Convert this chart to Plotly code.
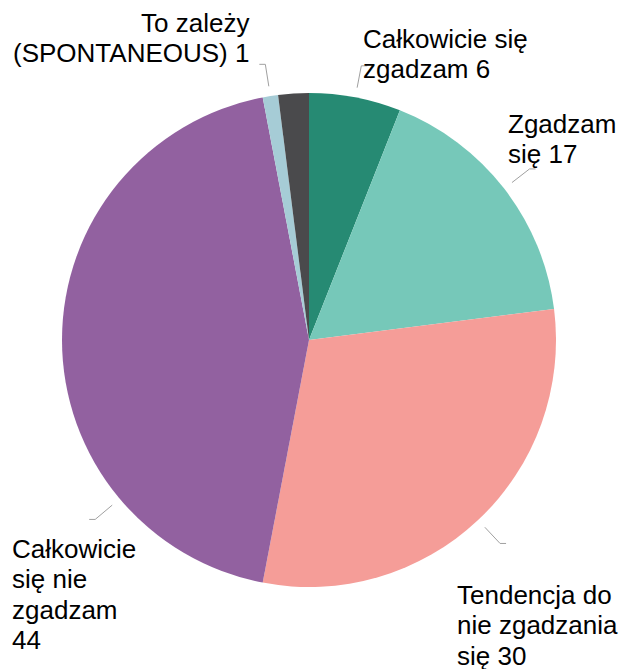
import math
import plotly.graph_objects as go

# ---- data ----
categories = ["Całkowicie się zgadzam", "Zgadzam się", "Tendencja do nie zgadzania się",
              "Całkowicie się nie zgadzam", "To zależy (SPONTANEOUS)", "Nie wiem"]
values = [6, 17, 30, 44, 1, 2]
label_lines = [["Całkowicie się", "zgadzam 6"], ["Zgadzam", "się 17"],
               ["Tendencja do", "nie zgadzania", "się 30"],
               ["Całkowicie", "się nie", "zgadzam", "44"],
               ["To zależy", "(SPONTANEOUS) 1"], None]

# ---- style ----
colors = ["#268a73", "#76c8b9", "#f59d98", "#9261a0", "#a6ccd6", "#4a4a4c"]
W, H = 623, 669
dom_x = [62 / W, 556 / W]
dom_y = [1 - 587 / H, 1 - 93 / H]
# label placement (pixels): x edge, first baseline, xanchor, leader-angle override, tick side
label_style = [
    dict(x=362, base=47, xanchor="left", angle=None, side=1),
    dict(x=507, base=132, xanchor="left", angle=None, side=1),
    dict(x=456, base=603, xanchor="left", angle=None, side=1),
    dict(x=11, base=557, xanchor="left", angle=230.0, side=-1),
    dict(x=250, base=31, xanchor="right", angle=None, side=-1),
    None,
]
FONT = "Liberation Sans, Arial, sans-serif"
FS = 26
LINE = 30.5

fig = go.Figure(go.Pie(
    labels=categories, values=values, sort=False, direction="clockwise", rotation=0,
    marker=dict(colors=colors, line=dict(width=0)), textinfo="none",
    domain=dict(x=dom_x, y=dom_y), hoverinfo="label+value", showlegend=False,
))

cx = (dom_x[0] + dom_x[1]) / 2 * W
cy = (1 - (dom_y[0] + dom_y[1]) / 2) * H
R = min((dom_x[1] - dom_x[0]) * W, (dom_y[1] - dom_y[0]) * H) / 2
total = sum(values)

def px(x, y):
    return x / W, 1 - y / H

shapes, annotations = [], []
cum = 0
for v, lines, st in zip(values, label_lines, label_style):
    mid = (cum + v / 2) / total * 360
    cum += v
    if lines is None:
        continue
    ang = math.radians(st["angle"] if st["angle"] is not None else mid)
    sx, sy = cx + 1.04 * R * math.sin(ang), cy - 1.04 * R * math.cos(ang)
    ex, ey = cx + 1.13 * R * math.sin(ang), cy - 1.13 * R * math.cos(ang)
    tx = ex + 6 * st["side"]
    x0, y0 = px(sx, sy)
    x1, y1 = px(ex, ey)
    x2, y2 = px(tx, ey)
    shapes.append(dict(type="path", xref="paper", yref="paper",
                       path=f"M {x0},{y0} L {x1},{y1} L {x2},{y2}",
                       line=dict(color="#a0a0a0", width=1)))
    for i, line in enumerate(lines):
        ax, ay = px(st["x"], st["base"] + i * LINE - 0.32 * FS)
        annotations.append(dict(text=line, x=ax, y=ay, xref="paper", yref="paper",
                                xanchor=st["xanchor"], yanchor="middle",
                                showarrow=False, borderpad=0,
                                font=dict(family=FONT, size=FS, color="#000000")))

fig.update_layout(width=W, height=H, margin=dict(l=0, r=0, t=0, b=0),
                  paper_bgcolor="white", plot_bgcolor="white",
                  shapes=shapes, annotations=annotations)
fig.write_html("out.html", config={"displayModeBar": False},
               post_script="document.body.style.margin='0';document.body.style.overflow='hidden';")
